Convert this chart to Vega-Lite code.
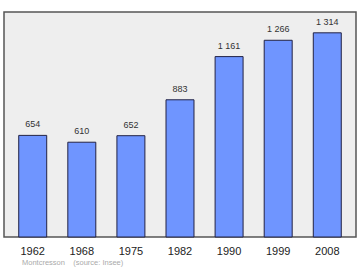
{
  "$schema": "https://vega.github.io/schema/vega-lite/v6.json",
  "autosize": "none",
  "width": 352,
  "height": 225,
  "padding": {"left": 4, "top": 12, "right": 4, "bottom": 33},
  "background": "white",
  "config": {
    "font": "Liberation Sans",
    "view": {"fill": "#eeeeee", "stroke": "#555555", "strokeWidth": 1.5}
  },
  "title": {
    "text": "Montcresson\u00a0\u00a0\u00a0\u00a0(source: Insee)",
    "orient": "bottom",
    "anchor": "start",
    "dx": 18,
    "offset": 3,
    "fontSize": 7.5,
    "fontWeight": "normal",
    "color": "#aaaaaa",
    "font": "Liberation Sans"
  },
  "data": {
    "values": [
      {"year": "1962", "population": 654, "label": "654"},
      {"year": "1968", "population": 610, "label": "610"},
      {"year": "1975", "population": 652, "label": "652"},
      {"year": "1982", "population": 883, "label": "883"},
      {"year": "1990", "population": 1161, "label": "1 161"},
      {"year": "1999", "population": 1266, "label": "1 266"},
      {"year": "2008", "population": 1314, "label": "1 314"}
    ]
  },
  "encoding": {
    "x": {
      "field": "year",
      "type": "nominal",
      "sort": null,
      "scale": {"paddingInner": 0.43, "paddingOuter": 0.3},
      "axis": {
        "title": null,
        "labelAngle": 0,
        "ticks": false,
        "domain": false,
        "labelFontSize": 11,
        "labelColor": "#222222",
        "labelPadding": 8,
        "labelFont": "Liberation Sans"
      }
    },
    "y": {
      "field": "population",
      "type": "quantitative",
      "scale": {"domain": [0, 1448], "nice": false},
      "axis": null
    }
  },
  "layer": [
    {
      "mark": {"type": "bar", "fill": "#6f95ff", "stroke": "#222244", "strokeWidth": 1}
    },
    {
      "mark": {"type": "text", "dy": -11, "fontSize": 9, "color": "#333333", "font": "Liberation Sans"},
      "encoding": {"text": {"field": "label"}}
    }
  ]
}
